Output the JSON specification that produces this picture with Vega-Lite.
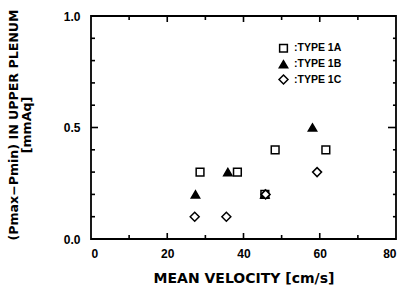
{
  "$schema": "https://vega.github.io/schema/vega-lite/v6.json",
  "width": 305,
  "height": 223,
  "autosize": "none",
  "padding": {"left": 91, "top": 16, "right": 14, "bottom": 55},
  "background": "white",
  "config": {
    "font": "Liberation Sans",
    "view": {"stroke": "black", "strokeWidth": 1.8},
    "axis": {
      "domain": false,
      "ticks": false,
      "tickSize": 0,
      "grid": false,
      "labelColor": "black",
      "labelFont": "Liberation Sans",
      "labelFontWeight": "bold",
      "labelFontSize": 12,
      "titleColor": "black",
      "titleFont": "DejaVu Sans",
      "titleFontWeight": "bold",
      "titleFontSize": 14
    }
  },
  "datasets": {
    "pts": [
      {"v": 28.6, "p": 0.3, "type": "TYPE 1A"},
      {"v": 38.4, "p": 0.3, "type": "TYPE 1A"},
      {"v": 45.6, "p": 0.2, "type": "TYPE 1A"},
      {"v": 48.3, "p": 0.4, "type": "TYPE 1A"},
      {"v": 61.6, "p": 0.4, "type": "TYPE 1A"},
      {"v": 27.4, "p": 0.2, "type": "TYPE 1B"},
      {"v": 35.9, "p": 0.3, "type": "TYPE 1B"},
      {"v": 45.6, "p": 0.2, "type": "TYPE 1B"},
      {"v": 58.1, "p": 0.5, "type": "TYPE 1B"},
      {"v": 27.2, "p": 0.1, "type": "TYPE 1C"},
      {"v": 35.5, "p": 0.1, "type": "TYPE 1C"},
      {"v": 45.8, "p": 0.2, "type": "TYPE 1C"},
      {"v": 59.3, "p": 0.3, "type": "TYPE 1C"}
    ],
    "xmajor": [{"v": 20}, {"v": 40}, {"v": 60}],
    "xminor": [{"v": 10}, {"v": 30}, {"v": 50}, {"v": 70}],
    "ymajor": [{"p": 0.5}],
    "yminor": [{"p": 0.1}, {"p": 0.2}, {"p": 0.3}, {"p": 0.4}, {"p": 0.6}, {"p": 0.7}, {"p": 0.8}, {"p": 0.9}]
  },
  "layer": [
    {
      "data": {"name": "pts"},
      "mark": {"type": "point", "opacity": 1, "strokeWidth": 1.5},
      "encoding": {
        "x": {
          "field": "v", "type": "quantitative",
          "scale": {"domain": [0, 80], "nice": false, "zero": false},
          "axis": {
            "orient": "bottom", "values": [0, 20, 40, 60, 80], "labelPadding": 9, "format": "d",
            "title": "MEAN VELOCITY [cm/s]", "titleX": 152.5, "titleY": 39, "titleBaseline": "middle"
          }
        },
        "y": {
          "field": "p", "type": "quantitative",
          "scale": {"domain": [0, 1], "nice": false, "zero": false},
          "axis": {
            "orient": "left", "values": [0, 0.5, 1], "labelPadding": 11, "format": ".1f",
            "title": ["(Pmax−Pmin) IN UPPER PLENUM", "[mmAq]"], "titleFontSize": 12.6, "titleX": -78, "titleY": 108.5, "titleBaseline": "middle", "titleLineHeight": 13
          }
        },
        "size": {
          "field": "type", "type": "nominal",
          "scale": {"domain": ["TYPE 1A", "TYPE 1B", "TYPE 1C"], "range": [60, 80, 85]},
          "legend": {
            "orient": "none", "legendX": 187, "legendY": 27, "title": null, "padding": 0,
            "labelExpr": "':' + datum.label", "labelFont": "Liberation Sans", "labelFontWeight": "bold", "labelFontSize": 10.5, "labelColor": "black",
            "labelOffset": 5, "rowPadding": 1,
            "encode": {"symbols": {"update": {"stroke": {"value": "black"}, "strokeWidth": {"value": 1.5}}}}
          }
        },
        "shape": {
          "field": "type", "type": "nominal",
          "scale": {"domain": ["TYPE 1A", "TYPE 1B", "TYPE 1C"], "range": ["square", "triangle-up", "diamond"]},
          "legend": {
            "orient": "none", "legendX": 187, "legendY": 27, "title": null, "padding": 0,
            "labelExpr": "':' + datum.label", "labelFont": "Liberation Sans", "labelFontWeight": "bold", "labelFontSize": 10.5, "labelColor": "black",
            "labelOffset": 5, "rowPadding": 1,
            "encode": {"symbols": {"update": {"stroke": {"value": "black"}, "strokeWidth": {"value": 1.5}}}}
          }
        },
        "fill": {
          "field": "type", "type": "nominal",
          "scale": {"domain": ["TYPE 1A", "TYPE 1B", "TYPE 1C"], "range": ["white", "black", "white"]},
          "legend": {
            "orient": "none", "legendX": 187, "legendY": 27, "title": null, "padding": 0,
            "labelExpr": "':' + datum.label", "labelFont": "Liberation Sans", "labelFontWeight": "bold", "labelFontSize": 10.5, "labelColor": "black",
            "labelOffset": 5, "rowPadding": 1,
            "encode": {"symbols": {"update": {"stroke": {"value": "black"}, "strokeWidth": {"value": 1.5}}}}
          }
        },
        "stroke": {"value": "black"}
      }
    },
    {
      "data": {"name": "xmajor"},
      "mark": {"type": "rule", "color": "black", "strokeWidth": 1.6},
      "encoding": {"x": {"field": "v", "type": "quantitative"}, "y": {"datum": 0}, "y2": {"datum": 0.027}}
    },
    {
      "data": {"name": "xminor"},
      "mark": {"type": "rule", "color": "black", "strokeWidth": 1.6},
      "encoding": {"x": {"field": "v", "type": "quantitative"}, "y": {"datum": 0}, "y2": {"datum": 0.018}}
    },
    {
      "data": {"name": "xmajor"},
      "mark": {"type": "rule", "color": "black", "strokeWidth": 1.6},
      "encoding": {"x": {"field": "v", "type": "quantitative"}, "y": {"datum": 1}, "y2": {"datum": 0.973}}
    },
    {
      "data": {"name": "xminor"},
      "mark": {"type": "rule", "color": "black", "strokeWidth": 1.6},
      "encoding": {"x": {"field": "v", "type": "quantitative"}, "y": {"datum": 1}, "y2": {"datum": 0.982}}
    },
    {
      "data": {"name": "ymajor"},
      "mark": {"type": "rule", "color": "black", "strokeWidth": 1.6},
      "encoding": {"y": {"field": "p", "type": "quantitative"}, "x": {"datum": 0}, "x2": {"datum": 1.84}}
    },
    {
      "data": {"name": "yminor"},
      "mark": {"type": "rule", "color": "black", "strokeWidth": 1.6},
      "encoding": {"y": {"field": "p", "type": "quantitative"}, "x": {"datum": 0}, "x2": {"datum": 1.05}}
    },
    {
      "data": {"name": "ymajor"},
      "mark": {"type": "rule", "color": "black", "strokeWidth": 1.6},
      "encoding": {"y": {"field": "p", "type": "quantitative"}, "x": {"datum": 80}, "x2": {"datum": 77.9}}
    },
    {
      "data": {"name": "yminor"},
      "mark": {"type": "rule", "color": "black", "strokeWidth": 1.6},
      "encoding": {"y": {"field": "p", "type": "quantitative"}, "x": {"datum": 80}, "x2": {"datum": 79.2}}
    }
  ]
}
